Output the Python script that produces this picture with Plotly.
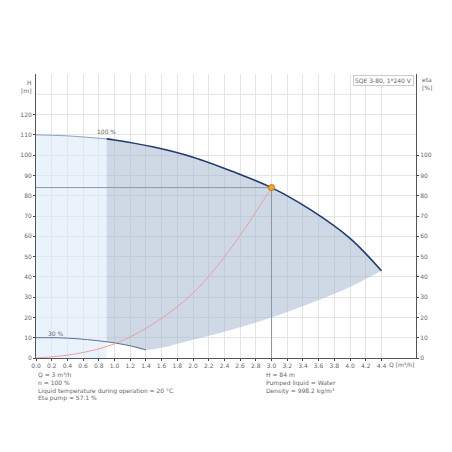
import plotly.graph_objects as go

q_max = [0.0, 0.4, 0.9, 1.0, 1.5, 2.0, 2.5, 3.0, 3.5, 4.0, 4.4]
h_max = [110, 109.5, 108, 107.5, 104, 99, 92, 84, 73, 59, 43]
q_min = [0.0, 0.4, 0.9, 1.2, 1.4]
h_min = [10, 9.8, 8, 6, 4]
q_low = [1.4, 2.0, 2.5, 3.0, 3.5, 4.0, 4.4]
h_low = [4, 9, 14, 20, 27, 35, 43]
q_eta = [0.0, 0.5, 1.0, 1.5, 2.0, 2.5, 3.0]
eta = [0, 2, 7, 17, 32, 55, 84]
q_op, h_op = 3.0, 84

fig = go.Figure()

# light region (left of 0.9)
lx = [q for q in q_max if q <= 0.9]
ly = h_max[:len(lx)]
fig.add_trace(go.Scatter(x=lx + [0.9, 0], y=ly + [0, 0], fill="toself", mode="none",
                         fillcolor="rgba(220,235,250,0.6)", hoverinfo="skip"))

# dark operating region
dx = [q for q in q_max if q >= 0.9] + q_low[::-1] + [1.2, 0.9]
dy = h_max[2:] + h_low[::-1] + [6, 8]
fig.add_trace(go.Scatter(x=dx, y=dy, fill="toself", mode="none", line=dict(shape="spline"),
                         fillcolor="rgba(160,180,205,0.5)", hoverinfo="skip"))

sp = dict(shape="spline", smoothing=1.0)
fig.add_trace(go.Scatter(x=q_max[:3], y=h_max[:3], mode="lines", line=dict(color="#8fa3bf", width=1, **sp)))
fig.add_trace(go.Scatter(x=q_max[2:], y=h_max[2:], mode="lines", line=dict(color="#1f3a6e", width=1.6, **sp)))
fig.add_trace(go.Scatter(x=q_min, y=h_min, mode="lines", line=dict(color="#5a6f96", width=1, **sp)))
fig.add_trace(go.Scatter(x=q_eta, y=eta, mode="lines", line=dict(color="#e8a0a0", width=1, **sp)))

fig.add_trace(go.Scatter(x=[0, q_op, q_op], y=[h_op, h_op, 0], mode="lines",
                         line=dict(color="#8a95a5", width=1)))
fig.add_trace(go.Scatter(x=[q_op], y=[h_op], mode="markers",
                         marker=dict(color="#f5a623", size=6, line=dict(color="#c07010", width=1))))
# hidden trace to activate right axis
fig.add_trace(go.Scatter(x=[0], y=[0], yaxis="y2", mode="markers", marker=dict(opacity=0)))

small = dict(size=6, color="#666", family="DejaVu Sans")
xticks = [round(0.2 * i, 1) for i in range(23)]
fig.update_layout(
    width=452, height=452, showlegend=False,
    plot_bgcolor="white", paper_bgcolor="white",
    margin=dict(l=26, r=44, t=66, b=102),
    xaxis=dict(range=[0, 4.84], tickvals=xticks, ticktext=[f"{v:.1f}" for v in xticks],
               showgrid=True, gridcolor="#e4e4e4", showline=True, linecolor="#555",
               ticks="outside", ticklen=2, tickfont=small, zeroline=False),
    yaxis=dict(range=[0, 140], tickvals=list(range(0, 130, 10)), showgrid=True,
               gridcolor="#e4e4e4", showline=True, linecolor="#555", ticks="outside",
               ticklen=2, tickfont=small, zeroline=False),
    yaxis2=dict(range=[0, 140], overlaying="y", side="right", tickvals=list(range(0, 110, 10)),
                showgrid=False, showline=True, linecolor="#555", ticks="outside",
                ticklen=2, tickfont=small, zeroline=False),
)
fig.add_shape(type="line", xref="paper", yref="y", x0=0, x1=1, y0=130, y1=130,
              line=dict(color="#e4e4e4", width=1), layer="below")

fig.add_annotation(xref="paper", yref="paper", x=-0.005, y=0.99, yanchor="top", text="H<br>[m]",
                   showarrow=False, font=small, xanchor="right", align="right")
fig.add_annotation(xref="paper", yref="paper", x=1.01, y=1.0, yanchor="top", text="eta<br>[%]",
                   showarrow=False, font=small, xanchor="left", align="left")
fig.add_annotation(xref="paper", yref="paper", x=0.995, y=0.995, yanchor="top", text="SQE 3-80, 1*240 V",
                   showarrow=False, font=small, xanchor="right", bordercolor="#ccc", borderwidth=1,
                   bgcolor="white")
fig.add_annotation(xref="paper", yref="paper", x=1.0, y=-0.005, yanchor="top", text="Q [m³/h]",
                   showarrow=False, font=small, xanchor="right", bgcolor="white")
fig.add_annotation(x=0.9, y=111.5, text="100 %", showarrow=False, font=small)
fig.add_annotation(x=0.25, y=12, text="30 %", showarrow=False, font=small)
fig.add_annotation(xref="paper", yref="paper", x=0.0, y=-0.04, yanchor="top", xanchor="left",
                   align="left", showarrow=False, font=small,
                   text="Q = 3 m³/h<br>n = 100 %<br>Liquid temperature during operation = 20 °C<br>Eta pump = 57.1 %")
fig.add_annotation(xref="paper", yref="paper", x=0.6, y=-0.04, yanchor="top", xanchor="left",
                   align="left", showarrow=False, font=small,
                   text="H = 84 m<br>Pumped liquid = Water<br>Density = 998.2 kg/m³")

fig.write_html("out.html")
